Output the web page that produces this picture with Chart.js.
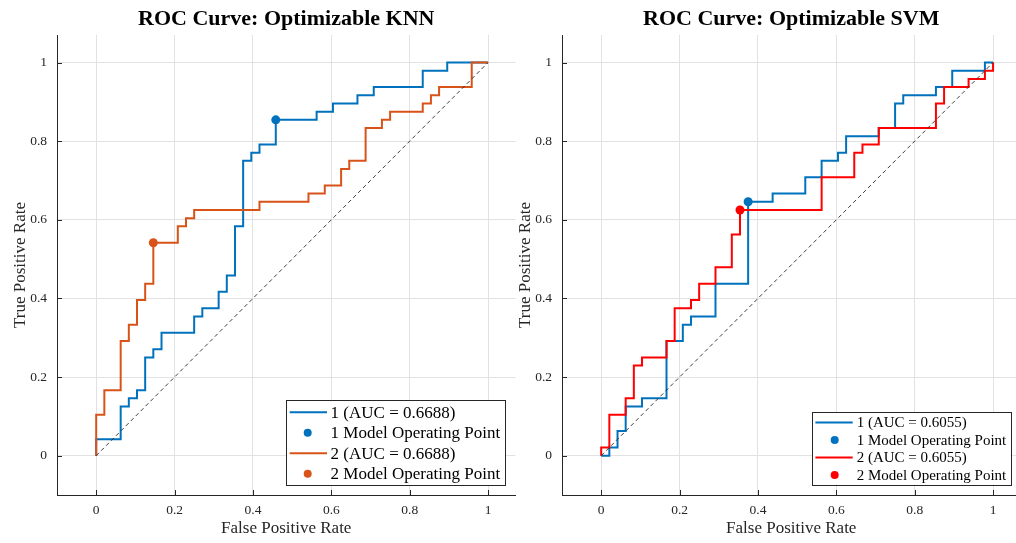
<!DOCTYPE html>
<html>
<head>
<meta charset="utf-8">
<script src="https://cdn.jsdelivr.net/npm/chart.js@4.4.1/dist/chart.umd.min.js"></script>
<style>
  html, body { margin:0; padding:0; background:#fff; overflow:hidden; width:1016px; height:543px; }
  canvas { position:absolute; top:0; }
</style>
</head>
<body>
<canvas id="knn" width="520" height="543" style="left:0px;width:520px;height:543px"></canvas>
<canvas id="svm" width="520" height="543" style="left:505px;width:520px;height:543px"></canvas>
<script>
// ---------- data ----------
const tickValues = [0, 0.2, 0.4, 0.6, 0.8, 1];
const tickLabels = ['0', '0.2', '0.4', '0.6', '0.8', '1'];

const knnTitle = 'ROC Curve: Optimizable KNN';
const svmTitle = 'ROC Curve: Optimizable SVM';

const knnLabels = ['1 (AUC = 0.6688)', '1 Model Operating Point', '2 (AUC = 0.6688)', '2 Model Operating Point'];
const svmLabels = ['1 (AUC = 0.6055)', '1 Model Operating Point', '2 (AUC = 0.6055)', '2 Model Operating Point'];

const knn1FPR = [0,0,0.0625,0.0625,0.0833,0.0833,0.1042,0.1042,0.125,0.125,0.1458,0.1458,0.1667,0.1667,0.25,0.25,0.2708,0.2708,0.3125,0.3125,0.3333,0.3333,0.3542,0.3542,0.375,0.375,0.3958,0.3958,0.4167,0.4167,0.4583,0.4583,0.5625,0.5625,0.6042,0.6042,0.6667,0.6667,0.7083,0.7083,0.8333,0.8333,0.8958,0.8958,1];
const knn1TPR = [0,0.0417,0.0417,0.125,0.125,0.1458,0.1458,0.1667,0.1667,0.25,0.25,0.2708,0.2708,0.3125,0.3125,0.3542,0.3542,0.375,0.375,0.4167,0.4167,0.4583,0.4583,0.5833,0.5833,0.75,0.75,0.7708,0.7708,0.7917,0.7917,0.8542,0.8542,0.875,0.875,0.8958,0.8958,0.9167,0.9167,0.9375,0.9375,0.9792,0.9792,1,1];
const knn2FPR = [0,0,0.0208,0.0208,0.0625,0.0625,0.0833,0.0833,0.1042,0.1042,0.125,0.125,0.1458,0.1458,0.2083,0.2083,0.2292,0.2292,0.25,0.25,0.4167,0.4167,0.5417,0.5417,0.5833,0.5833,0.625,0.625,0.6458,0.6458,0.6875,0.6875,0.7292,0.7292,0.75,0.75,0.8333,0.8333,0.8542,0.8542,0.875,0.875,0.9583,0.9583,1];
const knn2TPR = [0,0.1042,0.1042,0.1667,0.1667,0.2917,0.2917,0.3333,0.3333,0.3958,0.3958,0.4375,0.4375,0.5417,0.5417,0.5833,0.5833,0.6042,0.6042,0.625,0.625,0.6458,0.6458,0.6667,0.6667,0.6875,0.6875,0.7292,0.7292,0.75,0.75,0.8333,0.8333,0.8542,0.8542,0.875,0.875,0.8958,0.8958,0.9167,0.9167,0.9375,0.9375,1,1];
const knn1OpPoint = [0.4583, 0.8542];
const knn2OpPoint = [0.1458, 0.5417];

const svm1FPR = [0,0.0208,0.0208,0.0417,0.0417,0.0625,0.0625,0.1042,0.1042,0.1667,0.1667,0.2083,0.2083,0.2292,0.2292,0.2917,0.2917,0.375,0.375,0.4375,0.4375,0.5208,0.5208,0.5625,0.5625,0.6042,0.6042,0.625,0.625,0.7083,0.7083,0.75,0.75,0.7708,0.7708,0.8542,0.8542,0.8958,0.8958,0.9792,0.9792,1];
const svm1TPR = [0,0,0.0208,0.0208,0.0625,0.0625,0.125,0.125,0.1458,0.1458,0.2917,0.2917,0.3333,0.3333,0.3542,0.3542,0.4375,0.4375,0.6458,0.6458,0.6667,0.6667,0.7083,0.7083,0.75,0.75,0.7708,0.7708,0.8125,0.8125,0.8333,0.8333,0.8958,0.8958,0.9167,0.9167,0.9375,0.9375,0.9792,0.9792,1,1];
const svm2FPR = [0,0,0.0208,0.0208,0.0625,0.0625,0.0833,0.0833,0.1042,0.1042,0.1667,0.1667,0.1875,0.1875,0.2292,0.2292,0.25,0.25,0.2917,0.2917,0.3333,0.3333,0.3542,0.3542,0.5625,0.5625,0.6458,0.6458,0.6667,0.6667,0.7083,0.7083,0.8542,0.8542,0.875,0.875,0.9375,0.9375,0.9792,0.9792,1,1];
const svm2TPR = [0,0.0208,0.0208,0.1042,0.1042,0.1458,0.1458,0.2292,0.2292,0.25,0.25,0.2917,0.2917,0.375,0.375,0.3958,0.3958,0.4375,0.4375,0.4792,0.4792,0.5625,0.5625,0.625,0.625,0.7083,0.7083,0.7708,0.7708,0.7917,0.7917,0.8333,0.8333,0.8958,0.8958,0.9375,0.9375,0.9583,0.9583,0.9792,0.9792,1];
const svm1OpPoint = [0.375, 0.6458];
const svm2OpPoint = [0.3542, 0.625];

const chanceX = [0, 1];
const chanceY = [0, 1];

// ---------- styling ----------
const FONT = "'Liberation Serif', 'Times New Roman', serif";
const AXIS_COLOR = '#262626';
const GRID_COLOR = '#e2e2e2';
const BLUE = '#0072BD';
const ORANGE = '#D95319';
const RED = '#FF0000';

const pts = (xs, ys) => xs.map((x, i) => ({ x: x, y: ys[i] }));

const inwardTicks = {
  id: 'inwardTicks',
  afterDatasetsDraw(chart) {
    const ctx = chart.ctx, ca = chart.chartArea;
    const xs = chart.scales.x, ys = chart.scales.y;
    ctx.save();
    ctx.strokeStyle = AXIS_COLOR;
    ctx.lineWidth = 1;
    ctx.beginPath();
    tickValues.forEach(v => {
      const px = Math.round(xs.getPixelForValue(v)) + 0.5;
      ctx.moveTo(px, ca.bottom); ctx.lineTo(px, ca.bottom - 5);
      const py = Math.round(ys.getPixelForValue(v)) + 0.5;
      ctx.moveTo(ca.left, py); ctx.lineTo(ca.left + 5, py);
    });
    ctx.stroke();
    ctx.restore();
  }
};

const rocLegend = {
  id: 'rocLegend',
  afterDraw(chart, args, o) {
    const ctx = chart.ctx, ca = chart.chartArea;
    const items = chart.data.datasets.filter(d => d.label);
    ctx.save();
    ctx.font = o.fontSize + 'px ' + FONT;
    const textW = Math.max(...items.map(d => ctx.measureText(d.label).width));
    const w = o.textOffset + textW + o.padRight;
    const h = items.length * o.rowH + o.padTop + o.padBottom;
    const x0 = Math.round(ca.right - o.marginRight - w);
    const y0 = Math.round(ca.bottom - o.marginBottom - h);
    ctx.fillStyle = '#fff';
    ctx.fillRect(x0, y0, w, h);
    ctx.strokeStyle = AXIS_COLOR;
    ctx.lineWidth = 1;
    ctx.strokeRect(x0 + 0.5, y0 + 0.5, Math.round(w), Math.round(h));
    items.forEach((d, i) => {
      const cy = y0 + o.padTop + o.rowH * (i + 0.5);
      if (d.showLine) {
        ctx.strokeStyle = d.borderColor;
        ctx.lineWidth = 2;
        ctx.beginPath();
        ctx.moveTo(x0 + o.lineStart, cy);
        ctx.lineTo(x0 + o.lineEnd, cy);
        ctx.stroke();
      } else {
        ctx.fillStyle = d.backgroundColor;
        ctx.beginPath();
        ctx.arc(x0 + o.markerX, cy, 4, 0, Math.PI * 2);
        ctx.fill();
      }
      ctx.fillStyle = '#000';
      ctx.textBaseline = 'middle';
      ctx.textAlign = 'left';
      ctx.fillText(d.label, x0 + o.textOffset, cy + 1);
    });
    ctx.restore();
  }
};

function axisConfig(titleText, isX) {
  return {
    type: 'linear',
    min: -0.1,
    max: 1.07,
    afterBuildTicks: s => { s.ticks = tickValues.map(v => ({ value: v })); },
    afterFit: s => { if (isX) s.height = 48; else s.width = 57; },
    ticks: {
      callback: (v, i) => tickLabels[i],
      font: { family: FONT, size: 13.5 },
      color: AXIS_COLOR,
      padding: isX ? 7 : 10,
      maxRotation: 0,
      autoSkip: false
    },
    grid: { color: GRID_COLOR, lineWidth: 1, drawTicks: false },
    border: { display: true, color: AXIS_COLOR, width: 1 },
    title: {
      display: true,
      text: titleText,
      font: { family: FONT, size: 17 },
      color: AXIS_COLOR,
      padding: isX ? { top: 0, bottom: 4 } : { top: 10, bottom: 0 }
    }
  };
}

function makeChart(id, title, labels, c1, c2, s1x, s1y, s2x, s2y, op1, op2, legendOpts) {
  return new Chart(document.getElementById(id), {
    type: 'scatter',
    data: {
      datasets: [
        { label: labels[0], data: pts(s1x, s1y), showLine: true, borderColor: c1, backgroundColor: c1, borderWidth: 2, pointRadius: 0, order: 3 },
        { label: labels[1], data: [{ x: op1[0], y: op1[1] }], showLine: false, borderColor: c1, backgroundColor: c1, pointRadius: 4.5, pointBorderWidth: 0, order: 0 },
        { label: labels[2], data: pts(s2x, s2y), showLine: true, borderColor: c2, backgroundColor: c2, borderWidth: 2, pointRadius: 0, order: 2 },
        { label: labels[3], data: [{ x: op2[0], y: op2[1] }], showLine: false, borderColor: c2, backgroundColor: c2, pointRadius: 4.5, pointBorderWidth: 0, order: 0 },
        { label: '', data: pts(chanceX, chanceY), showLine: true, borderColor: '#2a2a2a', borderWidth: 0.9, borderDash: [4, 3], pointRadius: 0, order: 1 }
      ]
    },
    options: {
      responsive: false,
      animation: false,
      events: [],
      layout: { padding: { left: 0, right: 3.5, top: 0, bottom: 0 } },
      plugins: {
        legend: { display: false },
        tooltip: { enabled: false },
        title: {
          display: true,
          text: title,
          fullSize: false,
          color: '#000',
          font: { family: FONT, size: 22, weight: 'bold' },
          padding: { top: 6.5, bottom: 2.1 }
        },
        rocLegend: legendOpts
      },
      scales: {
        x: axisConfig('False Positive Rate', true),
        y: axisConfig('True Positive Rate', false)
      }
    },
    plugins: [inwardTicks, rocLegend]
  });
}

makeChart('knn', knnTitle, knnLabels, BLUE, ORANGE, knn1FPR, knn1TPR, knn2FPR, knn2TPR, knn1OpPoint, knn2OpPoint,
  { fontSize: 17, rowH: 20.5, padTop: 2, padBottom: 1, textOffset: 44.6, padRight: 5, lineStart: 3.7, lineEnd: 41, markerX: 21.7, marginRight: 10, marginBottom: 10 });
makeChart('svm', svmTitle, svmLabels, BLUE, RED, svm1FPR, svm1TPR, svm2FPR, svm2TPR, svm1OpPoint, svm2OpPoint,
  { fontSize: 15, rowH: 17.5, padTop: 1.8, padBottom: 0.8, textOffset: 44.7, padRight: 4.3, lineStart: 3.4, lineEnd: 40.7, markerX: 22.7, marginRight: 10, marginBottom: 10 });
</script>
</body>
</html>
